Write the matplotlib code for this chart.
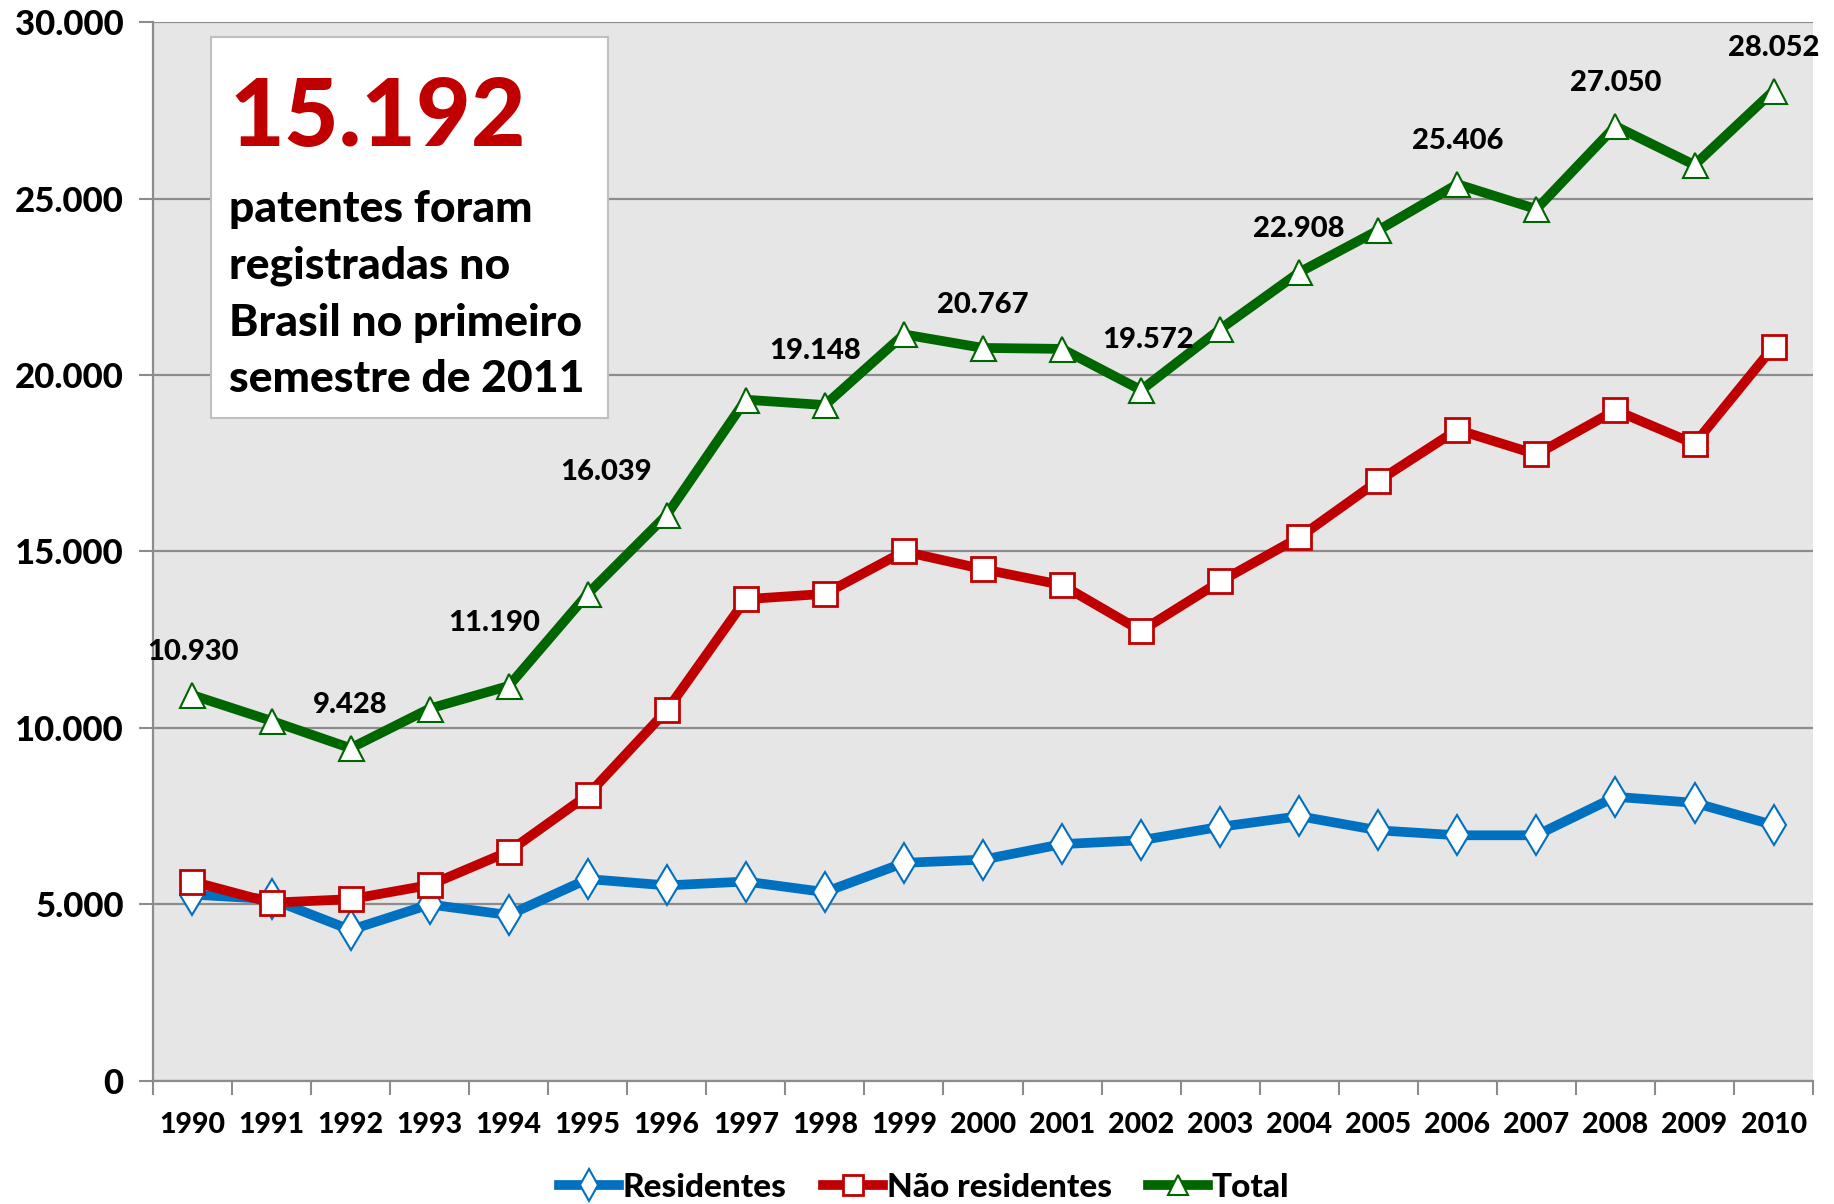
import matplotlib
import matplotlib.pyplot as plt
from matplotlib.lines import Line2D
from matplotlib.patches import Rectangle
from matplotlib.ticker import FuncFormatter, FixedLocator

matplotlib.use('Agg')
plt.rcParams['font.family'] = ['Lato', 'DejaVu Sans']
WEIGHT = 'black'

# Data
years = [1990, 1991, 1992, 1993, 1994, 1995, 1996, 1997, 1998, 1999, 2000,
         2001, 2002, 2003, 2004, 2005, 2006, 2007, 2008, 2009, 2010]
residentes = [5280, 5150, 4280, 5000, 4700, 5720, 5540, 5650, 5350, 6180, 6270,
              6710, 6820, 7200, 7500, 7100, 6960, 6960, 8050, 7880, 7250]
nao_residentes = [5650, 5050, 5150, 5550, 6500, 8100, 10500, 13650, 13800, 15000, 14500,
                  14050, 12750, 14150, 15400, 17000, 18450, 17750, 19000, 18050, 20800]
total = [10930, 10200, 9428, 10550, 11190, 13800, 16039, 19300, 19148, 21150, 20767,
         20740, 19572, 21300, 22908, 24100, 25406, 24700, 27050, 25950, 28052]
# years whose total gets a value label
labelled_years = [1990, 1992, 1994, 1996, 1998, 2000, 2002, 2004, 2006, 2008, 2010]

headline = "15.192"
headline_text = "patentes foram\nregistradas no\nBrasil no primeiro\nsemestre de 2011"

BLUE = '#0070C0'
RED = '#C00000'
GREEN = '#006600'
GRID = '#8C8C8C'


def fmt(v, pos=None):
    return f"{v:,.0f}".replace(',', '.')


fig = plt.figure(figsize=(18.34, 12.04), dpi=100)
ax = fig.add_axes([0.0834, 0.1022, 0.9052, 0.8795])
ax.set_facecolor('#E6E6E6')

x = list(range(len(years)))
ax.plot(x, residentes, color=BLUE, lw=7, marker='d', ms=20, mfc='white',
        mec=BLUE, mew=1.5, zorder=3)
ax.plot(x, nao_residentes, color=RED, lw=7, marker='s', ms=17, mfc='white',
        mec=RED, mew=2, zorder=4)
ax.plot(x, total, color=GREEN, lw=7, marker='^', ms=18, mfc='white',
        mec=GREEN, mew=1.5, zorder=5)

# value labels above the total line (pixel offsets tweaked like the original)
label_shift = {1994: (-15, 63), 1996: (-61, 43), 1998: (-10, 54), 2002: (7, 50)}
for yr in labelled_years:
    i = years.index(yr)
    dx, dy = label_shift.get(yr, (0, 43))
    ax.annotate(fmt(total[i]), (i, total[i]), xytext=(dx, dy),
                textcoords='offset pixels', ha='center', va='center',
                fontsize=21, fontweight=WEIGHT, color='black', zorder=6)

ax.set_xlim(-0.5, len(years) - 0.5)
ax.set_ylim(0, 30000)
ax.yaxis.set_major_locator(FixedLocator([0, 5000, 10000, 15000, 20000, 25000, 30000]))
ax.yaxis.set_major_formatter(FuncFormatter(fmt))
ax.set_xticks(x)
ax.set_xticklabels([str(y) for y in years])
ax.set_xticks([i - 0.5 for i in range(len(years) + 1)], minor=True)
ax.tick_params(axis='x', which='major', length=0, pad=22, labelsize=20.5)
ax.tick_params(axis='x', which='minor', length=10, width=1.5, color=GRID)
ax.tick_params(axis='y', length=10, width=1.5, color=GRID, pad=11, labelsize=25)
for lab in ax.get_xticklabels() + ax.get_yticklabels():
    lab.set_fontweight(WEIGHT)

ax.grid(axis='y', color=GRID, lw=1.6)
ax.set_axisbelow(True)
for side in ['top', 'right']:
    ax.spines[side].set_visible(False)
for side in ['left', 'bottom']:
    ax.spines[side].set_color(GRID)
    ax.spines[side].set_linewidth(1.6)

# headline box
ax.add_patch(Rectangle((0.035, 0.626), 0.239, 0.36, transform=ax.transAxes,
                       facecolor='white', edgecolor='#BFBFBF', lw=1.5, zorder=7))
ax.text(0.046, 0.883, headline, transform=ax.transAxes, fontsize=68,
        fontweight=WEIGHT, color=RED, va='baseline', ha='left', zorder=8)
ax.text(0.046, 0.842, headline_text, transform=ax.transAxes, fontsize=32,
        fontweight=WEIGHT, color='black', va='top', ha='left',
        linespacing=1.5, zorder=8)

handles = [
    Line2D([], [], color=BLUE, lw=7, marker='d', ms=16, mfc='white', mec=BLUE, mew=1.5),
    Line2D([], [], color=RED, lw=7, marker='s', ms=14, mfc='white', mec=RED, mew=2),
    Line2D([], [], color=GREEN, lw=7, marker='^', ms=15, mfc='white', mec=GREEN, mew=1.5),
]
fig.legend(handles, ['Residentes', 'Não residentes', 'Total'], loc='center',
           bbox_to_anchor=(0.504, 0.014), ncol=3, frameon=False,
           prop={'size': 24, 'weight': WEIGHT}, handlelength=1.8,
           handletextpad=0.1, columnspacing=1.1)

fig.savefig('out.png', dpi=100)
